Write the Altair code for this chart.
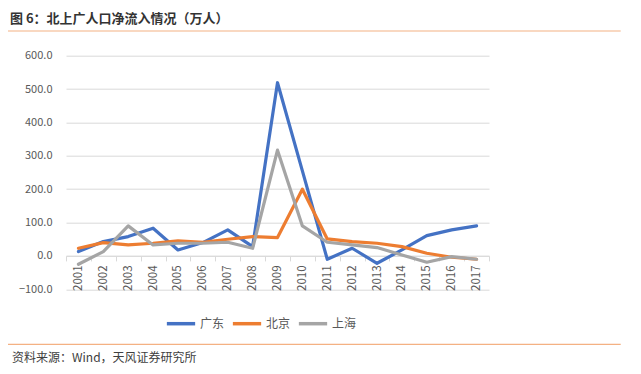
import altair as alt
import pandas as pd

years = [str(y) for y in range(2001, 2018)]
series_names = ["广东", "北京", "上海"]
guangdong = [13, 43, 58, 83, 18, 40, 78, 28, 519, 255, -10, 23, -22, 18, 61, 78, 90]
beijing = [23, 40, 33, 38, 45, 41, 50, 58, 55, 200, 51, 43, 38, 28, 8, -4, -10]
shanghai = [-25, 13, 90, 33, 38, 38, 41, 23, 317, 90, 41, 33, 25, 3, -19, -2, -10]
colors = ["#4472C4", "#ED7D31", "#A5A5A5"]
y_ticks = [-100, 0, 100, 200, 300, 400, 500, 600]

title_text = "图 6：北上广人口净流入情况（万人）"
source_text = "资料来源：Wind，天风证券研究所"

rows = []
for name, vals in zip(series_names, [guangdong, beijing, shanghai]):
    for yr, v in zip(years, vals):
        rows.append({"year": yr, "series": name, "value": v})
df = pd.DataFrame(rows)

FONT = "Noto Sans CJK SC"
W, H = 423, 233.6

lines = alt.Chart(df).mark_line(strokeWidth=3.2, strokeJoin="round", strokeCap="round").encode(
    x=alt.X("year:O", title=None,
            scale=alt.Scale(type="band", paddingInner=0, paddingOuter=0),
            axis=alt.Axis(labelAngle=-90, labelAlign="right", labelBaseline="middle",
                          labelPadding=4, labelFontSize=11.5, labelColor="#595959",
                          domainColor="#D9D9D9", domainWidth=1, ticks=True, tickBand="extent",
                          tickSize=5, tickColor="#D9D9D9", grid=False, offset=-33.4)),
    y=alt.Y("value:Q", title=None,
            scale=alt.Scale(domain=[-100, 600], nice=False, zero=False),
            axis=alt.Axis(values=y_ticks, format=".1f", labelFontSize=11, labelColor="#595959",
                          labelPadding=14, domain=False, ticks=False, gridColor="#D9D9D9",
                          gridWidth=1)),
    color=alt.Color("series:N", sort=series_names,
                    scale=alt.Scale(domain=series_names, range=colors),
                    legend=alt.Legend(title=None, orient="none", direction="horizontal",
                                      legendX=99, legendY=252, symbolType="stroke",
                                      symbolSize=800, symbolStrokeWidth=3.5,
                                      labelFontSize=12, labelColor="#595959", labelOffset=3,
                                      columnPadding=0)),
    order=alt.Order("year:O"),
)

title_df = pd.DataFrame({"t": [title_text]})
title = alt.Chart(title_df).mark_text(align="left", baseline="middle", fontSize=13,
                                      fontWeight="bold", color="#333333").encode(
    x=alt.value(-56), y=alt.value(-37.2), text="t:N")

source_df = pd.DataFrame({"t": [source_text]})
source = alt.Chart(source_df).mark_text(align="left", baseline="middle", fontSize=12,
                                        color="#404040").encode(
    x=alt.value(-54), y=alt.value(302.3), text="t:N")

rule_top = alt.Chart(title_df).mark_rule(color="#F4B183", strokeWidth=1.2).encode(
    x=alt.value(-58), x2=alt.value(554.7), y=alt.value(-24.7))
rule_bottom = alt.Chart(title_df).mark_rule(color="#F4B183", strokeWidth=1.2).encode(
    x=alt.value(-58), x2=alt.value(554.7), y=alt.value(288.6))

chart = alt.layer(lines, title, source, rule_top, rule_bottom).properties(
    width=W, height=H,
    autosize=alt.AutoSizeParams(type="none"),
    padding={"left": 58, "top": 47.7, "right": 144, "bottom": 76.7},
).configure(font=FONT).configure_view(stroke=None)

chart.save("out.html", embed_options={"renderer": "svg", "actions": False})
